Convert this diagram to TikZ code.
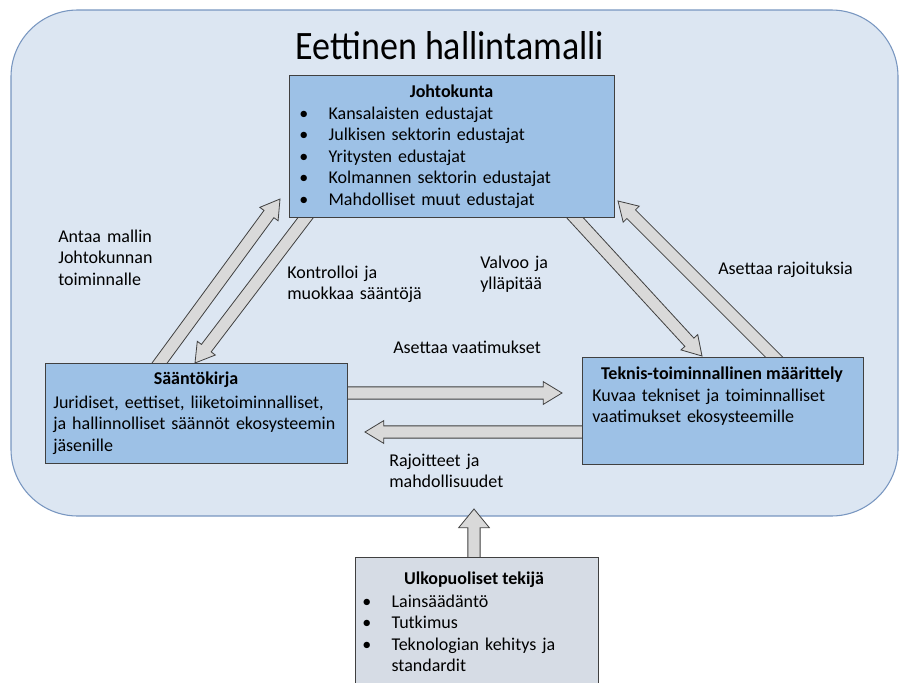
\documentclass[tikz,border=0pt]{standalone}
\usepackage{fontspec}
\setmainfont{Carlito}
\usepackage{tikz}
\usetikzlibrary{calc}

\definecolor{taustasin}{RGB}{220,230,242}
\definecolor{taustareuna}{RGB}{120,150,192}
\definecolor{laatikkosin}{RGB}{157,193,230}
\definecolor{harmaasin}{RGB}{214,220,229}
\definecolor{reuna}{RGB}{64,64,64}
\definecolor{nuolisin}{RGB}{217,217,217}

\tikzset{
  laatikko/.style 2 args={draw=reuna, line width=0.8pt, inner sep=0pt, anchor=north west,
    minimum width=#1*0.75pt, minimum height=#2*0.75pt},
  teksti/.style={font=\fontsize{13.5}{16.2}\selectfont, align=left, text width=9cm, inner sep=0pt, anchor=base west},
  otsikko/.style={font=\fontsize{13.5}{16.2}\selectfont\bfseries, inner sep=0pt, anchor=base},
  nuoli/.style={draw=reuna, fill=nuolisin, line width=0.6pt, line join=miter},
}

% block arrow: [head half width]{tail}{tip}
\newcommand{\blockarrow}[3][8.5pt]{%
  \coordinate (ba) at ($(#3)!14pt!(#2)$);
  \draw[nuoli] ($(#2)!4.6pt!90:(#3)$) -- ($(ba)!4.6pt!90:(#3)$) -- ($(ba)!#1!90:(#3)$)
    -- (#3) -- ($(ba)!#1!-90:(#3)$) -- ($(ba)!4.6pt!-90:(#3)$) -- ($(#2)!4.6pt!-90:(#3)$) -- cycle;
}
\newcommand{\kohta}[1]{\makebox[22pt][l]{\textbullet}#1}

\begin{document}
\begin{tikzpicture}[x=0.75pt, y=-0.75pt]
	\useasboundingbox (0,0) rectangle (903,682);
	\draw[fill=taustasin, draw=taustareuna, line width=0.8pt, rounded corners=50pt] (11,10) rectangle (898,516);
	\node[font=\fontsize{27}{32}\selectfont, anchor=base, inner sep=0pt, yscale=1.12] (malli) at (450,59) {Eettinen hallintamalli};

	% arrow ends
	\coordinate (kirjaYlos) at (153,372);
	\coordinate (johtoVasen) at (280,199);
	\coordinate (johtoAlas) at (313,208);
	\coordinate (kirjaYla) at (195,363);
	\coordinate (johtoOikea) at (566,208);
	\coordinate (tekYla) at (702,356);
	\coordinate (tekYlos) at (783,366);
	\coordinate (johtoKulma) at (618,201);
	\coordinate (kirjaOikea) at (340,393);
	\coordinate (tekVasen) at (562,393);
	\coordinate (tekAla) at (590,432);
	\coordinate (kirjaAla) at (365,432);
	\coordinate (ulkoYla) at (474,565);
	\coordinate (taustaAla) at (474,509);
	\blockarrow{kirjaYlos}{johtoVasen}
	\blockarrow{johtoAlas}{kirjaYla}
	\blockarrow{johtoOikea}{tekYla}
	\blockarrow{tekYlos}{johtoKulma}
	\blockarrow{kirjaOikea}{tekVasen}
	\blockarrow{tekAla}{kirjaAla}
	\blockarrow[11.5pt]{ulkoYla}{taustaAla}

	% boxes
	\node[laatikko={325}{142}, fill=laatikkosin] (johto) at (289,75) {};
	\node[laatikko={302}{100}, fill=laatikkosin] (kirja) at (45,363) {};
	\node[laatikko={281}{107}, fill=laatikkosin] (tek) at (582,357) {};
	\node[laatikko={243}{140}, fill=harmaasin] (ulko) at (355,557) {};

	\node[otsikko] (johtoOts) at (451.5,97) {Johtokunta};
	\node[teksti] (johtoLista) at (299,119) {\kohta{Kansalaisten edustajat}\\
		\kohta{Julkisen sektorin edustajat}\\ \kohta{Yritysten edustajat}\\
		\kohta{Kolmannen sektorin edustajat}\\ \kohta{Mahdolliset muut edustajat}};
	\node[otsikko] (kirjaOts) at (196,384) {Sääntökirja};
	\node[teksti] (kirjaTxt) at (53,408) {Juridiset, eettiset, liiketoiminnalliset,\\
		ja hallinnolliset säännöt ekosysteemin\\ jäsenille};
	\node[otsikko] (tekOts) at (722,379) {Teknis-toiminnallinen määrittely};
	\node[teksti] (tekTxt) at (592,401) {Kuvaa tekniset ja toiminnalliset\\ vaatimukset ekosysteemille};
	\node[otsikko] (ulkoOts) at (474,584) {Ulkopuoliset tekijä};
	\node[teksti] (ulkoLista) at (362,607) {\kohta{Lainsäädäntö}\\ \kohta{Tutkimus}\\
		\kohta{Teknologian kehitys ja}\\ \makebox[22pt]{}standardit};

	% arrow labels
	\node[teksti] (antaa) at (58,242) {Antaa mallin\\ Johtokunnan\\ toiminnalle};
	\node[teksti] (kontrolloi) at (287,278) {Kontrolloi ja\\ muokkaa sääntöjä};
	\node[teksti] (valvoo) at (480,268) {Valvoo ja\\ ylläpitää};
	\node[teksti, text width=] (rajoituksia) at (718,274) {Asettaa rajoituksia};
	\node[teksti, text width=] (vaatimukset) at (393,353) {Asettaa vaatimukset};
	\node[teksti] (rajoitteet) at (389,466) {Rajoitteet ja\\ mahdollisuudet};
\end{tikzpicture}
\end{document}
